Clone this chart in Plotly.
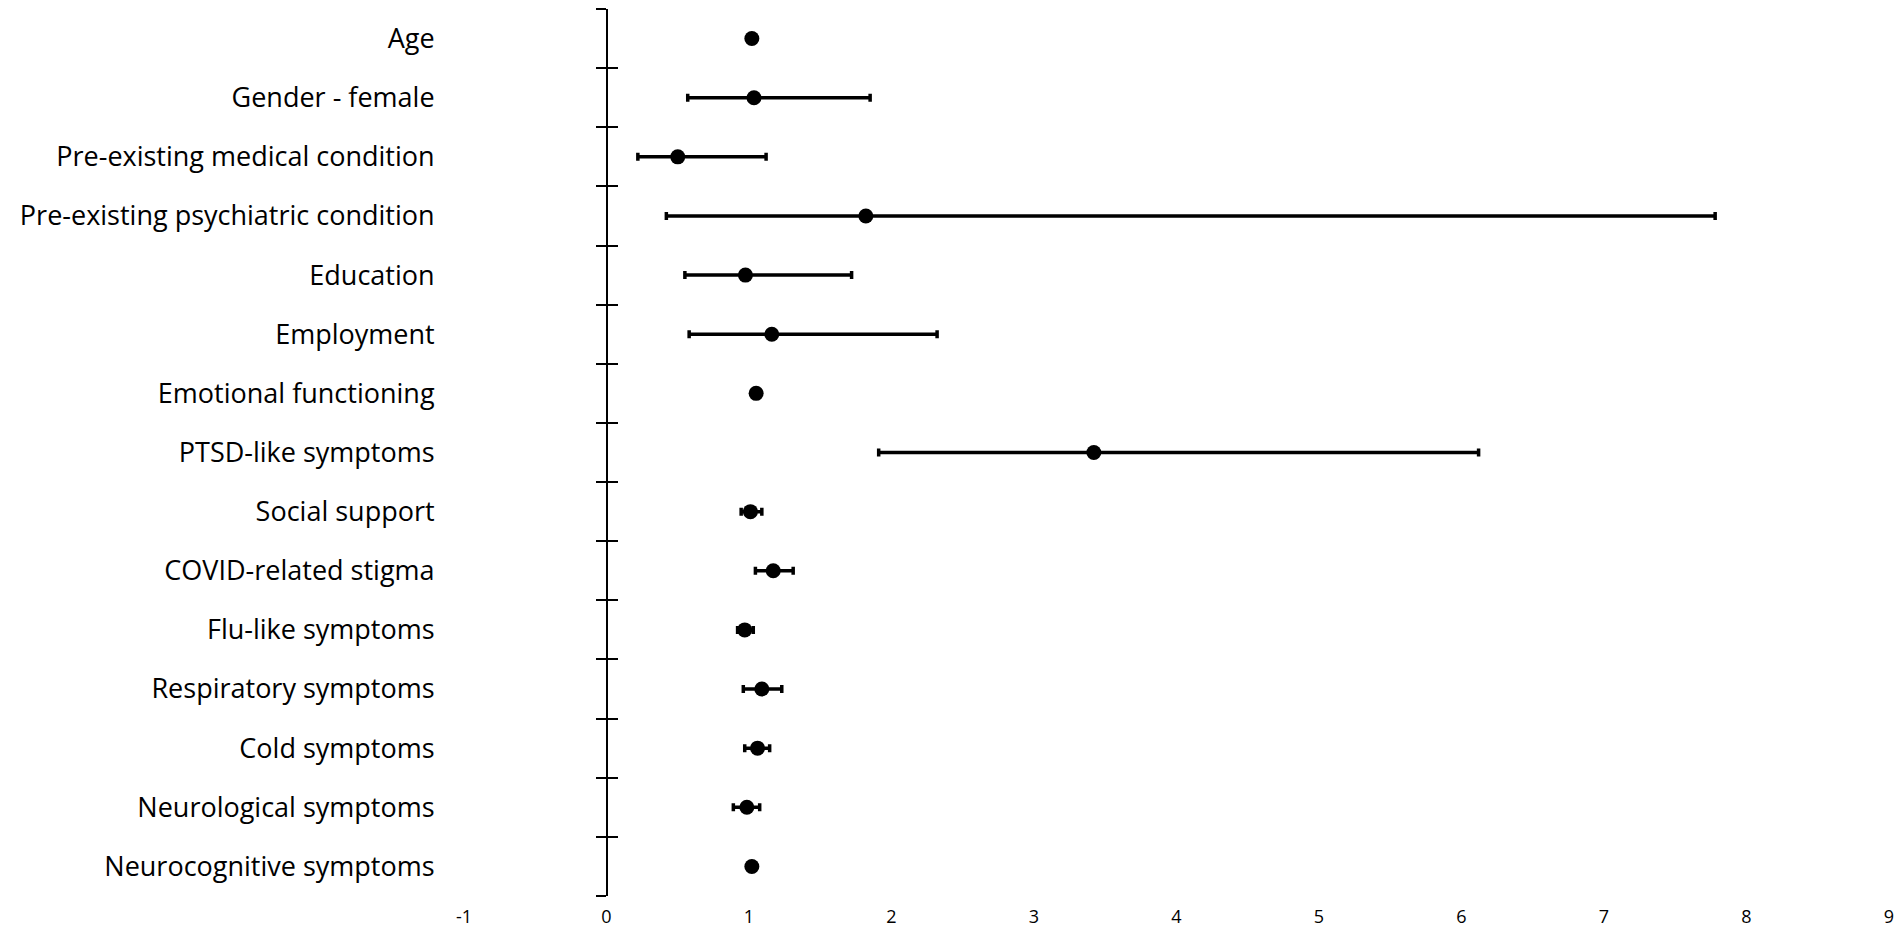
import plotly.graph_objects as go

categories = [
    "Age", "Gender - female", "Pre-existing medical condition",
    "Pre-existing psychiatric condition", "Education", "Employment",
    "Emotional functioning", "PTSD-like symptoms", "Social support",
    "COVID-related stigma", "Flu-like symptoms", "Respiratory symptoms",
    "Cold symptoms", "Neurological symptoms", "Neurocognitive symptoms",
]
odds_ratio = [1.02, 1.035, 0.50, 1.82, 0.975, 1.16, 1.05, 3.42, 1.01, 1.17, 0.97, 1.09, 1.06, 0.985, 1.02]
ci_lower = [1.00, 0.57, 0.22, 0.42, 0.55, 0.58, 1.03, 1.91, 0.945, 1.045, 0.92, 0.96, 0.97, 0.89, 1.00]
ci_upper = [1.04, 1.85, 1.12, 7.78, 1.72, 2.32, 1.07, 6.12, 1.09, 1.31, 1.03, 1.23, 1.145, 1.075, 1.04]
x_ticks = [-1, 0, 1, 2, 3, 4, 5, 6, 7, 8, 9]

n = len(categories)
ypos = list(range(n))
plus = [u - o for u, o in zip(ci_upper, odds_ratio)]
minus = [o - l for o, l in zip(odds_ratio, ci_lower)]
boundaries = [i - 0.5 for i in range(n + 1)]
yrange = [n - 0.5, -0.5]

fig = go.Figure()
fig.add_trace(go.Scatter(
    x=odds_ratio, y=ypos, mode="markers",
    marker=dict(color="black", size=15),
    error_x=dict(type="data", symmetric=False, array=plus, arrayminus=minus,
                 color="black", thickness=3.5, width=4),
    showlegend=False, hoverinfo="skip",
))
# empty traces that carry the overlay axes (axis line and crossing ticks)
fig.add_trace(go.Scatter(x=[None], y=[None], yaxis="y2", showlegend=False))
fig.add_trace(go.Scatter(x=[None], y=[None], yaxis="y3", showlegend=False))

font_family = "Open Sans"
fig.update_layout(
    width=1886, height=922,
    margin=dict(l=456, r=5, t=1, b=34),
    paper_bgcolor="white", plot_bgcolor="white",
    font=dict(family=font_family, color="black"),
    xaxis=dict(
        range=[x_ticks[0], x_ticks[-1]], tickvals=x_ticks,
        ticktext=[str(v) for v in x_ticks],
        showgrid=False, zeroline=False, showline=False,
        ticks="outside", ticklen=4, tickcolor="rgba(0,0,0,0)",
        tickfont=dict(size=18, family=font_family, color="black"),
        ticklabeloverflow="allow",
        automargin=False, fixedrange=True,
    ),
    yaxis=dict(
        range=yrange, tickvals=ypos, ticktext=categories,
        showgrid=False, zeroline=False, showline=False,
        ticks="outside", ticklen=23, tickcolor="rgba(0,0,0,0)",
        tickfont=dict(size=27, family=font_family, color="black"),
        ticklabeloverflow="allow",
        automargin=False, fixedrange=True,
    ),
    yaxis2=dict(
        range=yrange, overlaying="y", anchor="free", position=0.1, side="left",
        tickvals=boundaries, showticklabels=False,
        ticks="outside", ticklen=10, tickwidth=2, tickcolor="black",
        showline=True, linewidth=2, linecolor="black",
        showgrid=False, zeroline=False, automargin=False, fixedrange=True,
    ),
    yaxis3=dict(
        range=yrange, overlaying="y", anchor="free", position=0.1, side="left",
        tickvals=boundaries, showticklabels=False,
        ticks="inside", ticklen=10, tickwidth=2, tickcolor="black",
        showline=False, showgrid=False, zeroline=False, automargin=False,
        fixedrange=True,
    ),
)

fig.write_html("out.html")
